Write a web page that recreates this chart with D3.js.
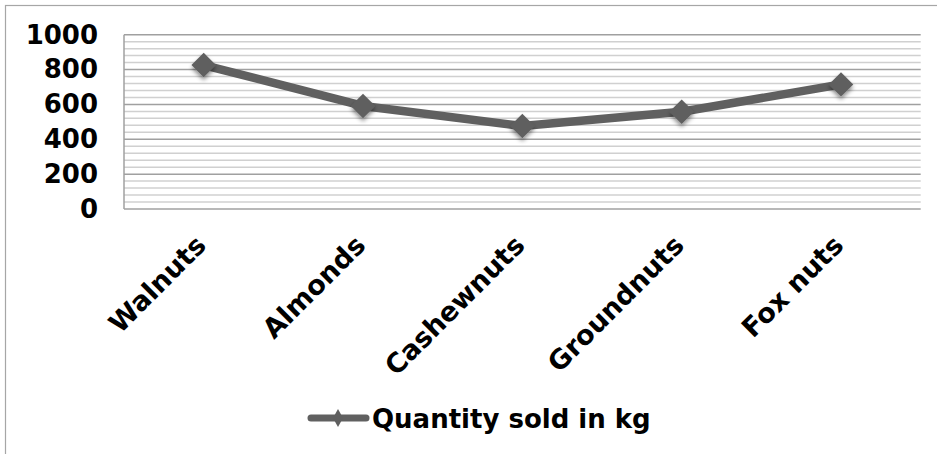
<!DOCTYPE html>
<html>
<head>
<meta charset="utf-8">
<script src="https://cdn.jsdelivr.net/npm/d3@7"></script>
<style>
  html, body { margin: 0; padding: 0; background: #fff; }
  svg { display: block; }
  text { font-family: 'DejaVu Sans', Verdana, sans-serif; font-weight: bold; fill: #000; }
</style>
</head>
<body>
<script>
'use strict';
// data
var categories = ['Walnuts', 'Almonds', 'Cashewnuts', 'Groundnuts', 'Fox nuts'];
var quantities = [826, 591, 476, 558, 715];
var yTicks     = [0, 200, 400, 600, 800, 1000];
var seriesName = 'Quantity sold in kg';

var width  = 937,
    height = 454;

var plot = {left: 124, right: 920.7, top: 34.7, bottom: 209};

var svg = d3.select('body').append('svg')
    .attr('width', width)
    .attr('height', height);

var defs = svg.append('defs');
var shadow = defs.append('filter')
    .attr('id', 'shadow')
    .attr('x', '-50%').attr('y', '-50%')
    .attr('width', '200%').attr('height', '200%');
shadow.append('feDropShadow')
    .attr('dx', 0).attr('dy', 3)
    .attr('stdDeviation', 2.2)
    .attr('flood-color', '#000')
    .attr('flood-opacity', 0.45);

// chart border
svg.append('rect')
    .attr('x', 5.5).attr('y', 5.5)
    .attr('width', width + 10).attr('height', height + 10)
    .attr('fill', 'none')
    .attr('stroke', '#a6a6a6')
    .attr('stroke-width', 1.2);

var x = d3.scaleBand()
    .domain(categories)
    .range([plot.left, plot.right]);

var y = d3.scaleLinear()
    .domain([0, 1000])
    .range([plot.bottom, plot.top]);

function cx(d) { return x(d) + x.bandwidth() / 2; }

// minor grid
var grid = svg.append('g');
grid.selectAll('line.minor')
    .data(d3.range(0, 1001, 40).filter(function(v) { return v % 200 !== 0; }))
  .enter().append('line')
    .attr('class', 'minor')
    .attr('x1', plot.left).attr('x2', plot.right)
    .attr('y1', function(d) { return y(d); })
    .attr('y2', function(d) { return y(d); })
    .attr('stroke', '#d0d0d0')
    .attr('stroke-width', 1.5);

// major grid
grid.selectAll('line.major')
    .data(yTicks)
  .enter().append('line')
    .attr('class', 'major')
    .attr('x1', plot.left).attr('x2', plot.right)
    .attr('y1', function(d) { return y(d); })
    .attr('y2', function(d) { return y(d); })
    .attr('stroke', '#a0a0a0')
    .attr('stroke-width', 1.5);

// left edge of plot area
svg.append('line')
    .attr('x1', plot.left).attr('x2', plot.left)
    .attr('y1', plot.top).attr('y2', plot.bottom)
    .attr('stroke', '#a0a0a0')
    .attr('stroke-width', 1.5);

// y axis labels
var yAxis = svg.append('g')
    .attr('transform', 'translate(' + plot.left + ',0)')
    .call(d3.axisLeft(y).tickValues(yTicks).tickFormat(d3.format('d'))
      .tickSize(0).tickPadding(26));
yAxis.select('.domain').remove();
yAxis.selectAll('text')
    .attr('font-family', null)
    .style('font-size', '26px');

// x axis labels
svg.append('g').selectAll('text')
    .data(categories)
  .enter().append('text')
    .attr('transform', function(d) {
      return 'translate(' + (cx(d) + 4) + ',247) rotate(-45)';
    })
    .attr('text-anchor', 'end')
    .style('font-size', '27px')
    .text(function(d) { return d; });

// series line
var line = d3.line()
    .x(function(d, i) { return cx(categories[i]); })
    .y(function(d) { return y(d); });

svg.append('path')
    .datum(quantities)
    .attr('d', line)
    .attr('fill', 'none')
    .attr('stroke', '#606060')
    .attr('stroke-width', 8.5)
    .attr('stroke-linejoin', 'round');

var diamond = d3.symbol().type(d3.symbolDiamond2).size(380);

svg.append('g').selectAll('path')
    .data(quantities)
  .enter().append('path')
    .attr('d', diamond)
    .attr('transform', function(d, i) {
      return 'translate(' + cx(categories[i]) + ',' + y(d) + ')';
    })
    .attr('fill', '#5f5f5f')
    .attr('filter', 'url(#shadow)');

// legend
var legend = svg.append('g');
legend.append('line')
    .attr('x1', 311).attr('x2', 366)
    .attr('y1', 418).attr('y2', 418)
    .attr('stroke', '#606060')
    .attr('stroke-width', 7)
    .attr('stroke-linecap', 'round');
legend.append('path')
    .attr('d', 'M338,409 L343,418 L338,427 L333,418 Z')
    .attr('fill', '#5f5f5f');
legend.append('text')
    .attr('x', 372).attr('y', 428)
    .style('font-size', '26px')
    .text(seriesName);
</script>
</body>
</html>
